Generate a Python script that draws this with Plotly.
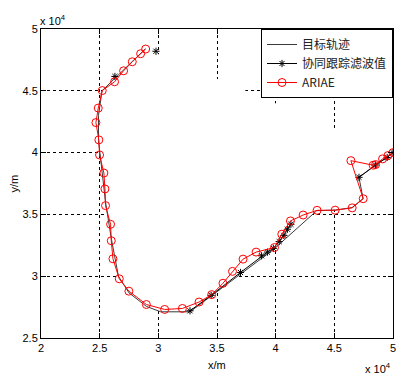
import plotly.graph_objects as go

# Coordinates in units of 1e4 m (as shown on the axes, "x 10^4")
target_x = [2.89, 2.52, 2.49, 2.49, 2.52, 2.55, 2.60, 2.66, 2.75, 2.90, 3.02, 3.27, 3.98, 4.35, 4.51, 4.65, 4.745, 4.71, 5.00]
target_y = [4.84, 4.50, 4.30, 4.10, 3.85, 3.60, 3.30, 3.00, 2.865, 2.755, 2.712, 2.712, 3.215, 3.53, 3.535, 3.555, 3.627, 3.80, 4.00]

filter_x = [2.98, None, 2.63, None, 3.27, 3.45, 3.70, 3.88, 3.93, 3.98, 4.03, 4.07, 4.10, 4.13, None, 4.71, 4.85, 4.95, 5.00]
filter_y = [4.82, None, 4.616, None, 2.72, 2.845, 3.03, 3.165, 3.195, 3.225, 3.28, 3.33, 3.38, 3.42, None, 3.80, 3.90, 3.96, 4.00]

ariae_x = [2.892, 2.849, 2.778, 2.704, 2.627, 2.522, 2.488, 2.468, 2.493, 2.499, 2.536, 2.545, 2.55, 2.593,
           2.599, 2.613, 2.667, 2.749, 2.898, 3.054, 3.205, 3.347, 3.455, 3.551, 3.632, 3.722, 3.833, 3.99,
           4.052, 4.126, 4.234, 4.353, 4.507, 4.652, 4.746, 4.641, 4.831, 4.852, 4.911, 4.957, 5.0]
ariae_y = [4.838, 4.80, 4.735, 4.662, 4.573, 4.502, 4.36, 4.243, 4.103, 3.981, 3.835, 3.706, 3.571, 3.42,
           3.287, 3.141, 2.979, 2.879, 2.771, 2.731, 2.739, 2.791, 2.851, 2.943, 3.039, 3.138, 3.195, 3.232,
           3.34, 3.447, 3.495, 3.533, 3.534, 3.553, 3.627, 3.935, 3.898, 3.903, 3.949, 3.976, 4.0]

xtick_vals = [2, 2.5, 3, 3.5, 4, 4.5, 5]
xtick_text = ["2", "2.5", "3", "3.5", "4", "4.5", "5"]
ytick_vals = [2.5, 3, 3.5, 4, 4.5, 5]
ytick_text = ["2.5", "3", "3.5", "4", "4.5", "5"]

FONT = "Liberation Sans, Arial, sans-serif"

fig = go.Figure()
# white area enclosed by the target trajectory (hides the grid, as in the original)
fig.add_trace(go.Scatter(x=target_x, y=target_y, mode="lines", fill="toself",
                         fillcolor="white", line=dict(width=0), showlegend=False, hoverinfo="skip"))
fig.add_trace(go.Scatter(x=target_x, y=target_y, mode="lines", name="目标轨迹",
                         line=dict(color="#3a3a3a", width=1)))
fig.add_trace(go.Scatter(x=filter_x, y=filter_y, mode="lines+markers", name="协同跟踪滤波值",
                         line=dict(color="black", width=1),
                         marker=dict(symbol="asterisk-open", size=6, color="black", line=dict(width=1, color="black"))))
fig.add_trace(go.Scatter(x=ariae_x, y=ariae_y, mode="lines+markers", name="ARIAE",
                         line=dict(color="#ff0000", width=1),
                         marker=dict(symbol="circle-open", size=8, color="#ff0000", line=dict(width=1, color="#ff0000"))))

axis_common = dict(showline=True, linecolor="black", linewidth=1, mirror="ticks",
                   ticks="inside", ticklen=5, tickcolor="black", automargin=False,
                   ticklabeloverflow="allow",
                   showgrid=True, gridcolor="black", gridwidth=1, griddash="3px,3px",
                   zeroline=False, tickfont=dict(family=FONT, size=11, color="black"))

fig.update_xaxes(range=[2, 5], tickvals=xtick_vals, ticktext=xtick_text, **axis_common)
fig.update_yaxes(range=[2.5, 5], tickvals=ytick_vals, ticktext=ytick_text, **axis_common)

fig.add_annotation(x=0.5, y=0, xref="paper", yref="paper", xanchor="center", yanchor="top",
                   text="x/m", showarrow=False, yshift=-19,
                   font=dict(family=FONT, size=11, color="black"))
fig.add_annotation(x=0, y=0.5, xref="paper", yref="paper", xanchor="center", yanchor="middle",
                   text="y/m", showarrow=False, xshift=-28, textangle=-90,
                   font=dict(family=FONT, size=11, color="black"))
fig.add_annotation(x=0, y=1, xref="paper", yref="paper", xanchor="left", yanchor="bottom",
                   text="x 10<sup>4</sup>", showarrow=False, yshift=0, xshift=-3,
                   font=dict(family=FONT, size=11, color="black"))
fig.add_annotation(x=1, y=0, xref="paper", yref="paper", xanchor="right", yanchor="top",
                   text="x 10<sup>4</sup>", showarrow=False, yshift=-21, xshift=0,
                   font=dict(family=FONT, size=11, color="black"))

fig.update_layout(
    width=396, height=374,
    margin=dict(l=41, r=3, t=29, b=36, autoexpand=False),
    plot_bgcolor="white", paper_bgcolor="white",
    legend=dict(x=1, y=1, xanchor="right", yanchor="top", bgcolor="white",
                bordercolor="black", borderwidth=1, tracegroupgap=0,
                font=dict(family="Noto Sans CJK SC, Liberation Sans", size=12, color="#222")),
    showlegend=True,
)

fig.write_html("out.html", config={"displayModeBar": False},
               post_script="document.body.style.margin='0px';")
